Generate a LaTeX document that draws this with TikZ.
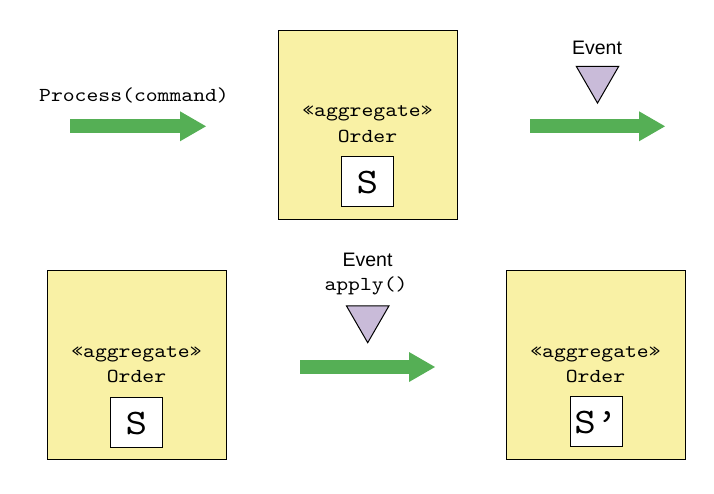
\documentclass[tikz,border=0pt]{standalone}
\usepackage{fontspec}
\setmainfont{Liberation Sans}
\setmonofont[FakeStretch=1.14]{lmmono10-regular.otf}
\definecolor{aggfill}{HTML}{F9F1A5}
\definecolor{evtfill}{HTML}{C9BBD9}
\definecolor{flowgreen}{HTML}{55AF55}
\usetikzlibrary{arrows.meta,shapes.geometric}

\begin{document}
\begin{tikzpicture}[x=1pt, y=-1pt,
    aggbox/.style={draw, line width=1pt, fill=aggfill,
                   minimum width=179pt, minimum height=189pt, inner sep=0pt},
    statebox/.style={draw, line width=1pt, fill=white,
                     minimum width=52pt, minimum height=50pt, inner sep=0pt},
    mono/.style={font=\fontsize{19.8}{22}\selectfont\ttfamily, anchor=base, inner sep=0pt},
    evtlbl/.style={font=\fontsize{19.5}{22}\selectfont, anchor=base, inner sep=0pt},
    statetxt/.style={font=\fontsize{36}{40}\selectfont\ttfamily, anchor=base, inner sep=0pt},
    evtri/.style={draw, line width=1pt, fill=evtfill, regular polygon, regular polygon sides=3,
                  shape border rotate=180, minimum size=49pt, inner sep=0pt, outer sep=0pt},
    flow/.style={draw=flowgreen, line width=14pt,
                 -{Triangle[length=26pt, width=30pt, line width=0pt]}}]

  \useasboundingbox (0,0) rectangle (714,493);

  % Process a command
  \node[mono] (cmd) at (134,101.7) {Process(command)};
  \coordinate (cmdA) at (70,126.3);
  \coordinate (cmdB) at (206,126.3);
  \draw[flow] (cmdA) -- (cmdB);

  \node[aggbox] (aggTop) at (367.5,124.5) {};
  \node[mono] (stTop) at (367.5,116.7) {«aggregate»};
  \node[mono] (ordTop) at (367.5,142.7) {Order};
  \node[statebox] (sTopBox) at (367.3,181) {};
  \node[statetxt] (sTop) at (367.3,193.3) {S};

  \node[evtlbl] (evtTop) at (597,54) {Event};
  \node[evtri] (triTop) at (597.5,78.6) {};
  \coordinate (outA) at (530,126.3);
  \coordinate (outB) at (665,126.3);
  \draw[flow] (outA) -- (outB);

  % Apply the event
  \node[aggbox] (aggL) at (136.5,365) {};
  \node[mono] (stL) at (136.5,357) {«aggregate»};
  \node[mono] (ordL) at (136.5,382.6) {Order};
  \node[statebox] (sLBox) at (136.5,422.5) {};
  \node[statetxt] (sL) at (136.5,434.3) {S};

  \node[evtlbl] (evtMid) at (367.5,266.7) {Event};
  \node[mono] (apply) at (366,290.7) {apply()};
  \node[evtri] (triMid) at (367.7,318.2) {};
  \coordinate (appA) at (300,367);
  \coordinate (appB) at (435,367);
  \draw[flow] (appA) -- (appB);

  \node[aggbox] (aggR) at (595.5,365) {};
  \node[mono] (stR) at (595.5,357) {«aggregate»};
  \node[mono] (ordR) at (595.5,382.6) {Order};
  \node[statebox] (sRBox) at (596,421) {};
  \node[statetxt] (sR) at (596,433.3) {S’};
\end{tikzpicture}
\end{document}
